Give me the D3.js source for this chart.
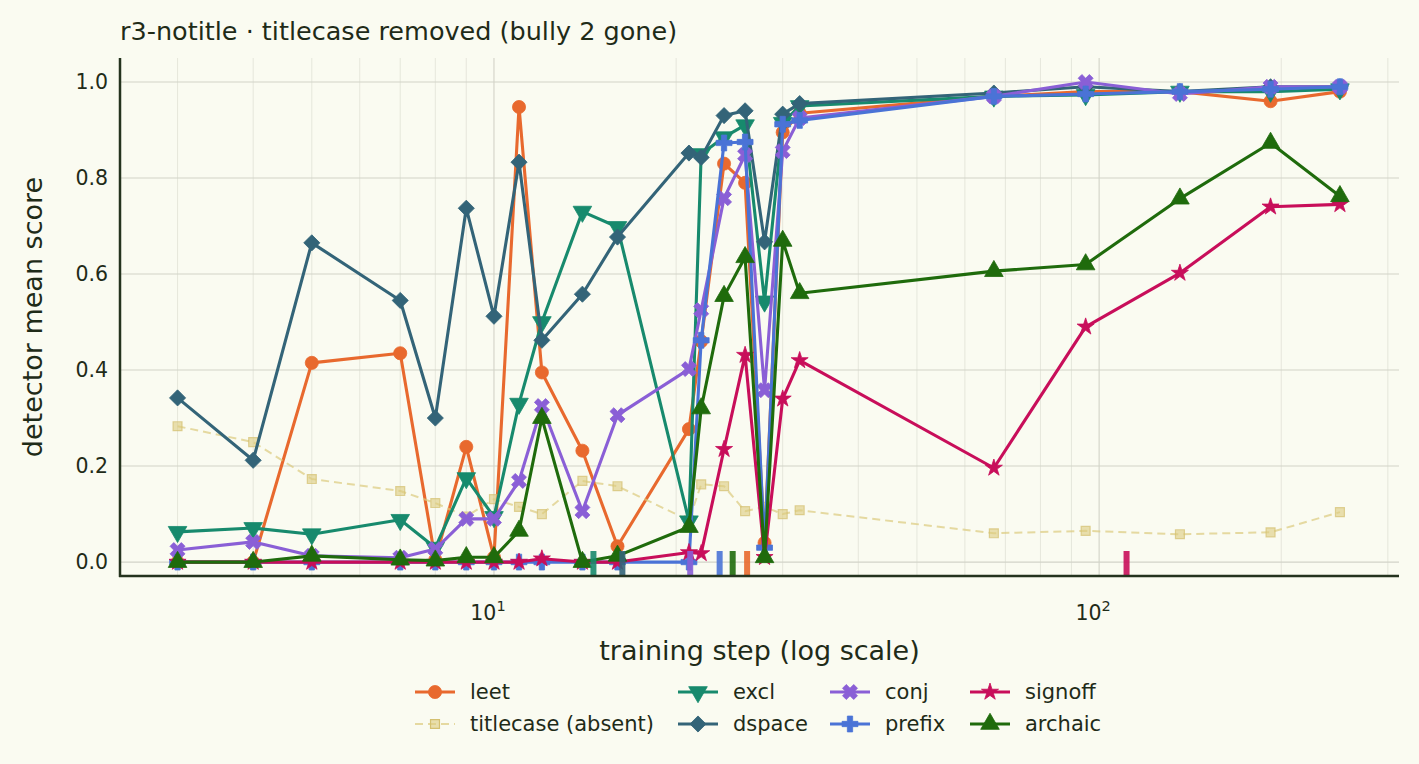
<!DOCTYPE html>
<html>
<head>
<meta charset="utf-8">
<script src="https://cdn.jsdelivr.net/npm/d3@7"></script>
<style>
  body { margin: 0; background: #fafbf1; }
  svg { font-family: "DejaVu Sans", sans-serif; }
</style>
</head>
<body>
<div class="canvas"></div>
<script>
// data
const steps = [3, 4, 5, 7, 8, 9, 10, 11, 12, 14, 16, 21, 22, 24, 26, 28, 30, 32, 67, 95, 136, 192, 250];

const leet = [0, 0, 0.415, 0.435, 0.005, 0.24, 0.01, 0.948, 0.395, 0.232, 0.033, 0.277, 0.46, 0.83, 0.79, 0.04, 0.895, 0.935, 0.97, 0.98, 0.98, 0.96, 0.98];
const titlecase = [0.283, 0.25, 0.173, 0.148, 0.123, 0.095, 0.131, 0.115, 0.10, 0.169, 0.158, 0.087, 0.162, 0.158, 0.106, 0.115, 0.10, 0.108, 0.06, 0.065, 0.058, 0.062, 0.104];
const excl = [0.063, 0.071, 0.058, 0.088, 0.03, 0.175, 0.094, 0.33, 0.50, 0.73, 0.698, 0.085, 0.85, 0.885, 0.91, 0.543, 0.915, 0.95, 0.97, 0.973, 0.98, 0.98, 0.985];
const dspace = [0.342, 0.212, 0.665, 0.545, 0.30, 0.737, 0.512, 0.833, 0.462, 0.558, 0.677, 0.852, 0.843, 0.93, 0.94, 0.667, 0.933, 0.955, 0.977, 0.99, 0.98, 0.99, 0.99];
const conj = [0.025, 0.042, 0.013, 0.009, 0.027, 0.09, 0.09, 0.169, 0.325, 0.106, 0.306, 0.402, 0.525, 0.758, 0.848, 0.358, 0.856, 0.925, 0.97, 1.0, 0.975, 0.99, 0.99];
const prefix = [0, 0, 0, 0, 0, 0, 0, 0, 0, 0, 0, 0, 0.462, 0.873, 0.875, 0.03, 0.912, 0.92, 0.97, 0.975, 0.98, 0.985, 0.99];
const signoff = [0, 0, 0, 0, 0, 0, 0, 0, 0.007, 0, 0, 0.02, 0.018, 0.235, 0.431, 0.01, 0.34, 0.42, 0.196, 0.49, 0.602, 0.74, 0.745];
const archaic = [0, 0, 0.013, 0.005, 0.003, 0.01, 0.01, 0.065, 0.30, 0, 0.013, 0.073, 0.32, 0.554, 0.635, 0.01, 0.669, 0.56, 0.606, 0.62, 0.757, 0.873, 0.762];

// little marks on the floor of the plot
const rugNames = ['excl', 'dspace', 'conj', 'prefix', 'archaic', 'leet', 'signoff'];
const rugSteps = [14.6, 16.3, 21.1, 23.6, 24.8, 26.2, 111];

const yTicks = [0, 0.2, 0.4, 0.6, 0.8, 1.0];
const xMajor = [10, 100];
const xMinor = [3, 4, 5, 6, 7, 8, 9, 20, 30, 40, 50, 60, 70, 80, 90, 200, 300];

const series = [
    { name: 'leet', label: 'leet', values: leet, color: '#e8692e', sym: 'circle' },
    { name: 'titlecase', label: 'titlecase (absent)', values: titlecase, color: '#dccb7e', sym: 'square', faded: true },
    { name: 'excl', label: 'excl', values: excl, color: '#178a6d', sym: 'tridown' },
    { name: 'dspace', label: 'dspace', values: dspace, color: '#336478', sym: 'diamond' },
    { name: 'conj', label: 'conj', values: conj, color: '#8a5fd6', sym: 'xfill' },
    { name: 'prefix', label: 'prefix', values: prefix, color: '#4a73d6', sym: 'plus' },
    { name: 'signoff', label: 'signoff', values: signoff, color: '#c80e5a', sym: 'star' },
    { name: 'archaic', label: 'archaic', values: archaic, color: '#1f6b0c', sym: 'triup' }
];

const W = 1419, H = 764;
const m = { left: 120, right: 1399, top: 58, bottom: 576 };
const ink = '#1f2b18';

const svg = d3.select('.canvas')
    .append('svg')
    .attr('width', W)
    .attr('height', H);

svg.append('rect').attr('width', W).attr('height', H).attr('fill', '#fafbf1');

const x = d3.scaleLog().domain([2.41, 313]).range([m.left, m.right]);
const y = d3.scaleLinear().domain([-0.029, 1.05]).range([m.bottom, m.top]);

// grid
const grid = svg.append('g');
grid.selectAll('.vminor').data(xMinor).enter().append('line')
    .attr('x1', d => x(d)).attr('x2', d => x(d))
    .attr('y1', m.top).attr('y2', m.bottom)
    .attr('stroke', '#e3e4d9').attr('stroke-width', 0.9);
grid.selectAll('.vmajor').data(xMajor).enter().append('line')
    .attr('x1', d => x(d)).attr('x2', d => x(d))
    .attr('y1', m.top).attr('y2', m.bottom)
    .attr('stroke', '#d2d3c8').attr('stroke-width', 1.1);
grid.selectAll('.hgrid').data(yTicks).enter().append('line')
    .attr('x1', m.left).attr('x2', m.right)
    .attr('y1', d => y(d)).attr('y2', d => y(d))
    .attr('stroke', '#d2d3c8').attr('stroke-width', 1.1);

// markers
function symPath(s) {
    switch (s) {
        case 'circle': return { d: d3.symbol(d3.symbolCircle, 135)(), rot: 0 };
        case 'square': return { d: d3.symbol(d3.symbolSquare, 80)(), rot: 0 };
        case 'tridown': return { d: d3.symbol(d3.symbolTriangle, 150)(), rot: 180 };
        case 'triup': return { d: d3.symbol(d3.symbolTriangle, 150)(), rot: 0 };
        case 'diamond': return { d: d3.symbol(d3.symbolSquare, 130)(), rot: 45 };
        case 'xfill': return { d: d3.symbol(d3.symbolCross, 140)(), rot: 45 };
        case 'plus': return { d: d3.symbol(d3.symbolCross, 140)(), rot: 0 };
        case 'star': return { d: d3.symbol(d3.symbolStar, 90)(), rot: 0 };
    }
}

const line = d3.line().x(d => x(d.s)).y(d => y(d.v));
const plot = svg.append('g');

series.forEach(s => {
    const pts = steps.map((st, i) => ({ s: st, v: s.values[i] }));
    const g = plot.append('g').attr('class', s.name);
    g.append('path')
        .attr('d', line(pts))
        .attr('fill', 'none')
        .attr('stroke', s.color)
        .attr('stroke-width', s.faded ? 2 : 3.1)
        .attr('stroke-dasharray', s.faded ? '8,5' : null)
        .attr('stroke-opacity', s.faded ? 0.7 : 1)
        .attr('stroke-linejoin', 'round');
    const sp = symPath(s.sym);
    g.selectAll('path.mk').data(pts).enter().append('path')
        .attr('class', 'mk')
        .attr('d', sp.d)
        .attr('transform', d => `translate(${x(d.s)},${y(d.v)}) rotate(${sp.rot})`)
        .attr('fill', s.color)
        .attr('fill-opacity', s.faded ? 0.6 : 1)
        .attr('stroke', s.faded ? '#d4c070' : s.color)
        .attr('stroke-opacity', s.faded ? 0.7 : 1)
        .attr('stroke-width', s.faded ? 1.2 : 0.8);
});

// rug ticks
const colorOf = name => series.find(s => s.name === name).color;
svg.append('g').selectAll('rect').data(rugSteps).enter().append('rect')
    .attr('x', d => x(d) - 3)
    .attr('y', m.bottom - 25)
    .attr('width', 6)
    .attr('height', 25)
    .attr('fill', (d, i) => colorOf(rugNames[i]))
    .attr('opacity', 0.9);

// spines
svg.append('line')
    .attr('x1', m.left).attr('x2', m.left).attr('y1', m.top).attr('y2', m.bottom + 1)
    .attr('stroke', '#24331e').attr('stroke-width', 2.5);
svg.append('line')
    .attr('x1', m.left - 1).attr('x2', m.right).attr('y1', m.bottom).attr('y2', m.bottom)
    .attr('stroke', '#24331e').attr('stroke-width', 2.5);

// y tick labels
svg.append('g').selectAll('text').data(yTicks).enter().append('text')
    .attr('x', 108).attr('y', d => y(d))
    .attr('dy', '0.36em')
    .attr('text-anchor', 'end')
    .attr('font-size', 20.5)
    .attr('fill', ink)
    .text(d => d.toFixed(1));

// x tick labels 10^n
const xl = svg.append('g').selectAll('text').data(xMajor).enter().append('text')
    .attr('x', d => x(d) - 6).attr('y', 620)
    .attr('text-anchor', 'middle')
    .attr('font-size', 20.5)
    .attr('fill', ink);
xl.append('tspan').text('10');
xl.append('tspan').attr('dy', -9).attr('font-size', 14.5).text(d => Math.round(Math.log10(d)));

// axis titles
svg.append('text')
    .attr('x', (m.left + m.right) / 2).attr('y', 660)
    .attr('text-anchor', 'middle').attr('font-size', 27).attr('fill', ink)
    .text('training step (log scale)');
svg.append('text')
    .attr('transform', `translate(42,${(m.top + m.bottom) / 2}) rotate(-90)`)
    .attr('text-anchor', 'middle').attr('font-size', 27).attr('fill', ink)
    .text('detector mean score');

// chart title
svg.append('text')
    .attr('x', m.left).attr('y', 40)
    .attr('font-size', 25.5).attr('fill', ink)
    .text('r3-notitle · titlecase removed (bully 2 gone)');

// legend, 4 columns filled top to bottom
const colX = [415, 678, 830, 970];
const rowY = [692, 724];
const leg = svg.append('g');
series.forEach((s, i) => {
    const cx = colX[Math.floor(i / 2)], cy = rowY[i % 2];
    const g = leg.append('g').attr('transform', `translate(${cx},${cy})`);
    g.append('line')
        .attr('x1', 0).attr('x2', 40)
        .attr('stroke', s.color)
        .attr('stroke-width', s.faded ? 2 : 3.1)
        .attr('stroke-dasharray', s.faded ? '8,5' : null)
        .attr('stroke-opacity', s.faded ? 0.7 : 1);
    const sp = symPath(s.sym);
    g.append('path')
        .attr('d', sp.d)
        .attr('transform', `translate(20,0) rotate(${sp.rot})`)
        .attr('fill', s.color)
        .attr('fill-opacity', s.faded ? 0.6 : 1)
        .attr('stroke', s.faded ? '#d4c070' : s.color)
        .attr('stroke-width', s.faded ? 1.2 : 0.8);
    g.append('text')
        .attr('x', 55).attr('dy', '0.35em')
        .attr('font-size', 21).attr('fill', ink)
        .text(s.label);
});
</script>
</body>
</html>
